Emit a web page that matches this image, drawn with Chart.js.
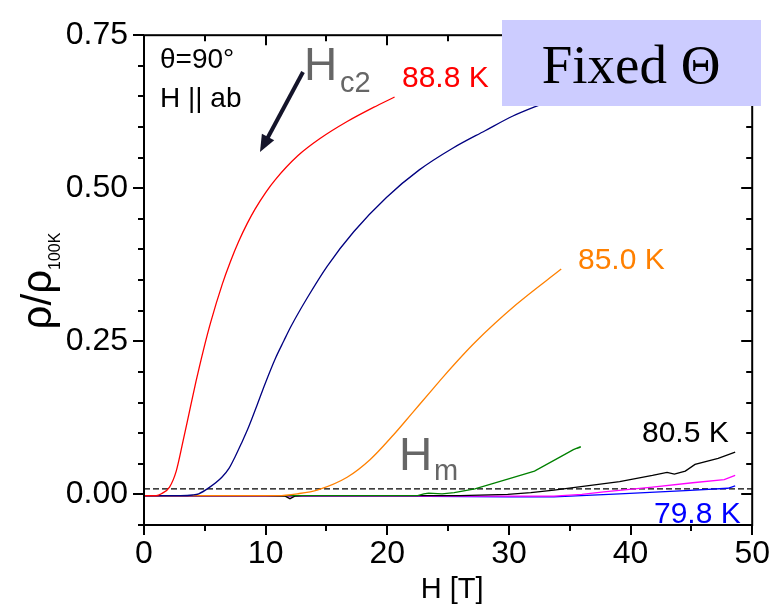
<!DOCTYPE html>
<html>
<head>
<meta charset="utf-8">
<title>rho / rho100K vs H</title>
<script src="https://cdn.jsdelivr.net/npm/chart.js@4.4.1/dist/chart.umd.min.js"></script>
<style>
  html, body { margin: 0; padding: 0; background: #fff; }
  canvas { display: block; }
</style>
</head>
<body>
<canvas id="rhoChart" width="780" height="605"></canvas>
<script>
// field sweeps at theta = 90 deg (H || ab), resistivity normalised to rho(100 K)
const xTicks = [0, 10, 20, 30, 40, 50]
const yTicks = [0, 0.25, 0.5, 0.75]
const dashLevel = 0.009

// 88.8 K
const h888 = [0, 1.0, 1.43, 2.1, 2.65, 3.2, 3.7, 4.27, 4.9, 5.48, 6.43, 7.1, 7.78, 8.5, 9.13, 10.0, 10.75, 12.64, 14.53, 16.7, 18.86, 20.6]
const r888 = [-0.002, -0.002, 0.001, 0.012, 0.038, 0.086, 0.132, 0.184, 0.237, 0.281, 0.343, 0.38, 0.413, 0.443, 0.466, 0.493, 0.513, 0.553, 0.582, 0.609, 0.632, 0.649]
// navy sweep
const hNavy = [0, 3.0, 4.0, 4.5, 5.35, 6.4, 7.0, 7.5, 8.0, 8.6, 9.3, 9.94, 10.8, 11.5, 12.1, 13.45, 15.07, 17.24, 19.93, 22.63, 25.34, 28.04, 30.33, 33.0]
const rNavy = [-0.002, -0.002, -0.001, 0.001, 0.011, 0.028, 0.043, 0.062, 0.083, 0.11, 0.146, 0.18, 0.222, 0.251, 0.275, 0.322, 0.373, 0.429, 0.485, 0.53, 0.565, 0.594, 0.618, 0.64]
// 85.0 K
const h850 = [0, 8, 11, 12.6, 14.3, 16.7, 18.6, 20.5, 22.1, 23.7, 24.6, 27.2, 30.6, 34.3]
const r850 = [-0.002, -0.002, -0.002, 0.001, 0.0075, 0.028, 0.057, 0.097, 0.134, 0.171, 0.192, 0.248, 0.31, 0.368]
// green sweep
const hGreen = [0, 10, 20, 22.5, 23.0, 23.4, 24.5, 25.5, 27.2, 29.9, 32.1, 34.3, 35.3, 35.9, 35.6, 35.9]
const rGreen = [-0.002, -0.002, -0.002, -0.002, 0.001, 0.002, 0.001, 0.003, 0.009, 0.025, 0.038, 0.062, 0.073, 0.078, 0.075, 0.077]
// 80.5 K
const h805 = [0, 10, 11.6, 12.0, 12.4, 13, 20, 26, 29.9, 31.8, 33.7, 36.4, 39.1, 41.8, 43.0, 43.6, 44.5, 45.3, 47.2, 48.6]
const r805 = [-0.002, -0.002, -0.003, -0.007, -0.003, -0.002, -0.002, -0.002, 0.0, 0.003, 0.007, 0.014, 0.021, 0.031, 0.036, 0.033, 0.038, 0.049, 0.059, 0.069]
// magenta sweep
const hMag = [0, 10, 20, 30, 33.7, 36.0, 37.8, 41.8, 45.1, 47.7, 48.6]
const rMag = [-0.003, -0.003, -0.003, -0.003, -0.003, 0.0, 0.004, 0.012, 0.019, 0.024, 0.031]
// 79.8 K
const h798 = [0, 10, 20, 30, 33.7, 39.1, 44.5, 48.0, 48.6]
const r798 = [-0.003, -0.003, -0.003, -0.004, -0.004, 0.001, 0.006, 0.01, 0.014]

const sans = 'Arial, "Liberation Sans", sans-serif'

function pts(h, r) {
    return h.map((v, i) => ({x: v, y: r[i]}))
}

function curve(label, h, r, color, smooth) {
    return {
        label: label,
        data: pts(h, r),
        borderColor: color,
        borderWidth: 1.3,
        pointRadius: 0,
        showLine: true,
        fill: false,
        cubicInterpolationMode: smooth ? 'monotone' : 'default',
        tension: 0
    }
}

// box frame, inner/outer ticks, labels and notes
const decor = {
    id: 'decor',
    afterDatasetsDraw(chart) {
        const {ctx, chartArea: a, scales: {x, y}} = chart
        ctx.save()
        ctx.strokeStyle = '#000'
        ctx.lineWidth = 2
        ctx.beginPath()
        for (let k = 0; k <= 10; k++) {
            const px = Math.round(x.getPixelForValue(k * 5))
            const len = k % 2 === 0 ? 10 : 6
            ctx.moveTo(px, a.bottom); ctx.lineTo(px, a.bottom + len)
            ctx.moveTo(px, a.top); ctx.lineTo(px, a.top + len)
        }
        for (let k = -1; k <= 15; k++) {
            const py = Math.round(y.getPixelForValue(k * 0.05))
            const len = k % 5 === 0 ? 11 : 6
            ctx.moveTo(a.left, py); ctx.lineTo(a.left - len, py)
            ctx.moveTo(a.right, py); ctx.lineTo(a.right - len, py)
        }
        ctx.stroke()
        ctx.strokeRect(a.left, a.top, a.right - a.left, a.bottom - a.top)
        ctx.restore()
    },
    afterDraw(chart) {
        const {ctx, chartArea: a} = chart
        ctx.save()
        ctx.textBaseline = 'alphabetic'

        // axis titles
        ctx.fillStyle = '#000'
        ctx.font = '29px ' + sans
        ctx.textAlign = 'center'
        ctx.fillText('H [T]', (a.left + a.right) / 2 + 4, 598)

        ctx.save()
        ctx.translate(51, 0)
        ctx.rotate(-Math.PI / 2)
        ctx.textAlign = 'left'
        ctx.font = '42px ' + sans
        const main = 'ρ/ρ'
        const wMain = ctx.measureText(main).width
        ctx.font = '16px ' + sans
        const wSub = ctx.measureText('100K').width
        const start = -281 - (wMain + wSub) / 2
        ctx.font = '42px ' + sans
        ctx.fillText(main, start, 0)
        ctx.font = '16px ' + sans
        ctx.fillText('100K', start + wMain, 9)
        ctx.restore()

        // notes
        ctx.textAlign = 'left'
        ctx.font = '28px ' + sans
        ctx.fillText('θ=90°', 160, 68)
        ctx.fillText('H || ab', 160, 107)

        ctx.fillStyle = '#666'
        ctx.font = '46px ' + sans
        ctx.fillText('H', 304, 80)
        ctx.fillText('H', 399, 470)
        ctx.font = '29px ' + sans
        ctx.fillText('c2', 340, 92)
        ctx.fillText('m', 434, 480)

        // arrow towards the 88.8 K curve
        ctx.strokeStyle = '#14142a'
        ctx.fillStyle = '#14142a'
        ctx.lineWidth = 4
        ctx.beginPath()
        ctx.moveTo(303, 72)
        ctx.lineTo(267, 139)
        ctx.stroke()
        const ang = Math.atan2(152 - 72, 260 - 303)
        ctx.beginPath()
        ctx.moveTo(260, 152)
        ctx.lineTo(260 - 17 * Math.cos(ang) + 7 * Math.sin(ang), 152 - 17 * Math.sin(ang) - 7 * Math.cos(ang))
        ctx.lineTo(260 - 17 * Math.cos(ang) - 7 * Math.sin(ang), 152 - 17 * Math.sin(ang) + 7 * Math.cos(ang))
        ctx.closePath()
        ctx.fill()

        // temperature labels
        ctx.font = '30px ' + sans
        ctx.fillStyle = '#ff0000'
        ctx.fillText('88.8 K', 402, 87)
        ctx.fillStyle = '#ff8000'
        ctx.fillText('85.0 K', 578, 269)
        ctx.fillStyle = '#000'
        ctx.fillText('80.5 K', 642, 442)
        ctx.fillStyle = '#0000ff'
        ctx.fillText('79.8 K', 654, 523)

        // "Fixed Θ" badge
        ctx.fillStyle = '#ccccff'
        ctx.fillRect(502, 20, 259, 86)
        ctx.fillStyle = '#000'
        ctx.textAlign = 'center'
        ctx.font = '55px "Liberation Serif", "Times New Roman", serif'
        ctx.fillText('Fixed Θ', 631, 83)
        ctx.restore()
    }
}

const ctx = document.getElementById('rhoChart').getContext('2d')
const config = {
    type: 'scatter',
    data: {
        datasets: [
            curve('88.8 K', h888, r888, '#ff0000', true),
            curve('navy', hNavy, rNavy, '#000080', true),
            curve('85.0 K', h850, r850, '#ff8000', true),
            curve('green', hGreen, rGreen, '#008000', false),
            curve('80.5 K', h805, r805, '#000000', false),
            curve('magenta', hMag, rMag, '#ff00ff', false),
            curve('79.8 K', h798, r798, '#0000ff', false),
            {
                label: 'ref',
                data: [{x: 0, y: dashLevel}, {x: 50, y: dashLevel}],
                borderColor: '#000',
                borderWidth: 1.2,
                borderDash: [6, 3],
                pointRadius: 0,
                showLine: true
            }
        ]
    },
    options: {
        responsive: false,
        animation: false,
        devicePixelRatio: 1,
        layout: {padding: {top: 24, right: 19, left: 0, bottom: 0}},
        plugins: {legend: {display: false}, tooltip: {enabled: false}},
        scales: {
            x: {
                type: 'linear',
                min: 0,
                max: 50,
                afterBuildTicks: s => { s.ticks = xTicks.map(v => ({value: v})) },
                afterFit: s => { s.height = 80 },
                grid: {display: false, drawTicks: false},
                border: {display: false},
                ticks: {color: '#000', padding: 10, maxRotation: 0, font: {size: 32, family: sans}}
            },
            y: {
                type: 'linear',
                min: -0.05,
                max: 0.75,
                afterBuildTicks: s => { s.ticks = yTicks.map(v => ({value: v})) },
                afterFit: s => { s.width = 144 },
                grid: {display: false, drawTicks: false},
                border: {display: false},
                ticks: {color: '#000', padding: 16, font: {size: 32, family: sans},
                        callback: v => v.toFixed(2)}
            }
        }
    },
    plugins: [decor]
}
const rhoChart = new Chart(ctx, config)
</script>
</body>
</html>
